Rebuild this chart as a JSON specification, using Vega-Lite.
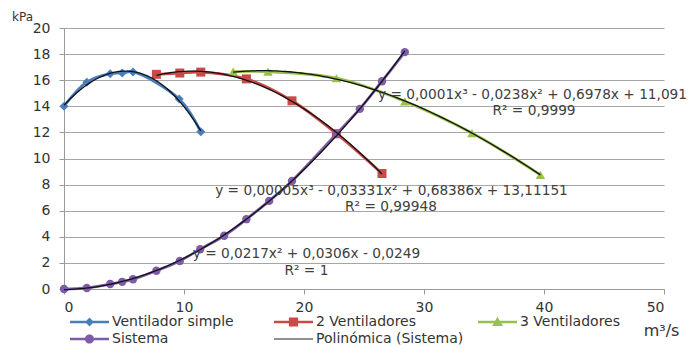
{
  "$schema": "https://vega.github.io/schema/vega-lite/v6.json",
  "width": 600,
  "height": 261,
  "autosize": {"type": "none"},
  "padding": {"left": 64, "top": 28, "right": 24, "bottom": 56},
  "background": "white",
  "config": {
    "view": {"stroke": null},
    "font": "DejaVu Sans",
    "axis": {"labelFont": "DejaVu Sans", "titleFont": "DejaVu Sans", "labelColor": "#333333", "titleColor": "#333333", "domainColor": "#9a9a9a", "tickColor": "#9a9a9a", "gridColor": "#a6a6a6", "titleFontWeight": "normal"},
    "legend": {"orient": "none", "direction": "horizontal", "legendX": 4, "legendY": 287, "columns": 3, "gridAlign": "all", "columnPadding": 12, "rowPadding": 3, "padding": 0, "symbolSize": 100, "symbolStrokeWidth": 0, "symbolOpacity": 1, "labelFont": "DejaVu Sans", "labelFontSize": 14, "labelColor": "#333333", "labelOffset": 30, "labelLimit": 300, "title": null}
  },
  "data": {
    "values": [
      {"serie": "Ventilador simple", "q": 0, "p": 14.0},
      {"serie": "Ventilador simple", "q": 1.9, "p": 15.85},
      {"serie": "Ventilador simple", "q": 3.85, "p": 16.5},
      {"serie": "Ventilador simple", "q": 4.85, "p": 16.55},
      {"serie": "Ventilador simple", "q": 5.75, "p": 16.63},
      {"serie": "Ventilador simple", "q": 9.6, "p": 14.55},
      {"serie": "Ventilador simple", "q": 11.4, "p": 12.05},
      {"serie": "2 Ventiladores", "q": 7.7, "p": 16.45},
      {"serie": "2 Ventiladores", "q": 9.65, "p": 16.55},
      {"serie": "2 Ventiladores", "q": 11.4, "p": 16.62},
      {"serie": "2 Ventiladores", "q": 15.2, "p": 16.1},
      {"serie": "2 Ventiladores", "q": 19.0, "p": 14.42},
      {"serie": "2 Ventiladores", "q": 22.7, "p": 11.9},
      {"serie": "2 Ventiladores", "q": 26.5, "p": 8.85},
      {"serie": "3 Ventiladores", "q": 14.1, "p": 16.65},
      {"serie": "3 Ventiladores", "q": 17.0, "p": 16.65},
      {"serie": "3 Ventiladores", "q": 22.7, "p": 16.15},
      {"serie": "3 Ventiladores", "q": 28.4, "p": 14.38},
      {"serie": "3 Ventiladores", "q": 34.0, "p": 11.95},
      {"serie": "3 Ventiladores", "q": 39.7, "p": 8.75},
      {"serie": "Sistema", "q": 0, "p": 0},
      {"serie": "Sistema", "q": 1.9, "p": 0.08},
      {"serie": "Sistema", "q": 3.85, "p": 0.38},
      {"serie": "Sistema", "q": 4.85, "p": 0.55},
      {"serie": "Sistema", "q": 5.75, "p": 0.75},
      {"serie": "Sistema", "q": 7.7, "p": 1.4},
      {"serie": "Sistema", "q": 9.65, "p": 2.15},
      {"serie": "Sistema", "q": 11.35, "p": 3.05},
      {"serie": "Sistema", "q": 13.35, "p": 4.08},
      {"serie": "Sistema", "q": 15.2, "p": 5.35},
      {"serie": "Sistema", "q": 17.1, "p": 6.75},
      {"serie": "Sistema", "q": 19.0, "p": 8.28},
      {"serie": "Sistema", "q": 22.7, "p": 11.88},
      {"serie": "Sistema", "q": 24.65, "p": 13.8},
      {"serie": "Sistema", "q": 26.5, "p": 15.92},
      {"serie": "Sistema", "q": 28.4, "p": 18.15}
    ]
  },
  "encoding": {
    "x": {"field": "q", "type": "quantitative", "scale": {"domain": [0, 50], "nice": false}, "axis": {"values": [0, 10, 20, 30, 40, 50], "grid": false, "tickSize": 5, "labelFontSize": 14, "labelPadding": 6, "title": "m³/s", "titleFontSize": 16, "titleX": 597, "titleY": 41, "titleAlign": "center", "titleBaseline": "middle", "titleAnchor": null}},
    "y": {"field": "p", "type": "quantitative", "scale": {"domain": [0, 20], "nice": false}, "axis": {"values": [0, 2, 4, 6, 8, 10, 12, 14, 16, 18, 20], "grid": true, "tickSize": 5, "labelFontSize": 14, "labelPadding": 9, "title": "kPa", "titleAngle": 0, "titleFontSize": 12, "titleX": -42, "titleY": -12, "titleAlign": "center", "titleBaseline": "middle", "titleAnchor": null}}
  },
  "layer": [
    {
      "mark": {"type": "line", "strokeWidth": 2.8, "interpolate": "catmull-rom"},
      "encoding": {
        "stroke": {"field": "serie", "type": "nominal", "scale": {"domain": ["Ventilador simple", "2 Ventiladores", "3 Ventiladores", "Sistema"], "range": ["#4A7EBB", "#C94A47", "#98C04E", "#7D5CA8"]}, "legend": null},
        "detail": {"field": "serie"}
      }
    },
    {
      "transform": [{"filter": "datum.serie === 'Ventilador simple'"}],
      "mark": {"type": "point", "shape": "diamond", "filled": true, "opacity": 1, "size": 81, "color": "#4A7EBB"}
    },
    {
      "transform": [{"filter": "datum.serie === '2 Ventiladores'"}],
      "mark": {"type": "point", "shape": "square", "filled": true, "opacity": 1, "size": 81, "color": "#C94A47"}
    },
    {
      "transform": [{"filter": "datum.serie === '3 Ventiladores'"}],
      "mark": {"type": "point", "shape": "triangle-up", "filled": true, "opacity": 1, "size": 90, "color": "#98C04E"}
    },
    {
      "transform": [{"filter": "datum.serie === 'Sistema'"}],
      "mark": {"type": "point", "shape": "circle", "filled": true, "opacity": 1, "size": 70, "color": "#7D5CA8"}
    },
    {
      "transform": [
        {"filter": "datum.serie !== 'Sistema'"},
        {"regression": "p", "on": "q", "groupby": ["serie"], "method": "poly", "order": 3}
      ],
      "mark": {"type": "line", "color": "#111111", "strokeWidth": 1.3},
      "encoding": {"detail": {"field": "serie"}}
    },
    {
      "transform": [
        {"filter": "datum.serie === 'Sistema'"},
        {"regression": "p", "on": "q", "method": "poly", "order": 2}
      ],
      "mark": {"type": "line", "color": "#111111", "strokeWidth": 1.3},
      "encoding": {}
    },
    {
      "mark": {"type": "point", "filled": true, "opacity": 0, "size": 100},
      "encoding": {
        "color": {"field": "serie", "type": "nominal", "scale": {"domain": ["Ventilador simple", "2 Ventiladores", "3 Ventiladores", "Sistema", "Polinómica (Sistema)"], "range": ["#4A7EBB", "#C94A47", "#98C04E", "#7D5CA8", "#222222"]}, "legend": {"title": null, "orient": "none", "direction": "horizontal", "legendX": 4, "legendY": 287, "columns": 3, "gridAlign": "all", "columnPadding": 12, "rowPadding": 3}},
        "shape": {"field": "serie", "type": "nominal", "scale": {"domain": ["Ventilador simple", "2 Ventiladores", "3 Ventiladores", "Sistema", "Polinómica (Sistema)"], "range": [
          "M-1,-0.26H6.8V0.26H-1ZM2.9,-0.88L3.78,0L2.9,0.88L2.02,0Z",
          "M-1,-0.26H6.8V0.26H-1ZM1.98,-0.92H3.82V0.92H1.98Z",
          "M-1,-0.26H6.8V0.26H-1ZM2.9,-1.05L3.98,0.8H1.82Z",
          "M-1,-0.26H6.8V0.26H-1ZM1.98,0A0.92,0.92,0,1,1,3.82,0A0.92,0.92,0,1,1,1.98,0Z",
          "M-1,-0.12H6.8V0.12H-1Z"
        ]}, "legend": {"title": null}}
      }
    },
    {
      "transform": [{"filter": "datum.serie === 'Sistema' && datum.q === 0"}],
      "mark": {"type": "text", "text": "y = 0,0001x³ - 0,0238x² + 0,6978x + 11,091", "font": "DejaVu Sans", "fontSize": 13.7, "color": "#404040", "align": "center", "baseline": "middle"},
      "encoding": {"x": {"datum": 39.04}, "y": {"datum": 14.87}}
    },
    {
      "transform": [{"filter": "datum.serie === 'Sistema' && datum.q === 0"}],
      "mark": {"type": "text", "text": "R² = 0,9999", "font": "DejaVu Sans", "fontSize": 13.7, "color": "#404040", "align": "center", "baseline": "middle"},
      "encoding": {"x": {"datum": 39.17}, "y": {"datum": 13.64}}
    },
    {
      "transform": [{"filter": "datum.serie === 'Sistema' && datum.q === 0"}],
      "mark": {"type": "text", "text": "y = 0,00005x³ - 0,03331x² + 0,68386x + 13,11151", "font": "DejaVu Sans", "fontSize": 13.7, "color": "#404040", "align": "center", "baseline": "middle"},
      "encoding": {"x": {"datum": 27.29}, "y": {"datum": 7.5}}
    },
    {
      "transform": [{"filter": "datum.serie === 'Sistema' && datum.q === 0"}],
      "mark": {"type": "text", "text": "R² = 0,99948", "font": "DejaVu Sans", "fontSize": 13.7, "color": "#404040", "align": "center", "baseline": "middle"},
      "encoding": {"x": {"datum": 27.25}, "y": {"datum": 6.28}}
    },
    {
      "transform": [{"filter": "datum.serie === 'Sistema' && datum.q === 0"}],
      "mark": {"type": "text", "text": "y = 0,0217x² + 0,0306x - 0,0249", "font": "DejaVu Sans", "fontSize": 13.7, "color": "#404040", "align": "center", "baseline": "middle"},
      "encoding": {"x": {"datum": 20.2}, "y": {"datum": 2.68}}
    },
    {
      "transform": [{"filter": "datum.serie === 'Sistema' && datum.q === 0"}],
      "mark": {"type": "text", "text": "R² = 1", "font": "DejaVu Sans", "fontSize": 13.7, "color": "#404040", "align": "center", "baseline": "middle"},
      "encoding": {"x": {"datum": 20.2}, "y": {"datum": 1.38}}
    }
  ]
}
